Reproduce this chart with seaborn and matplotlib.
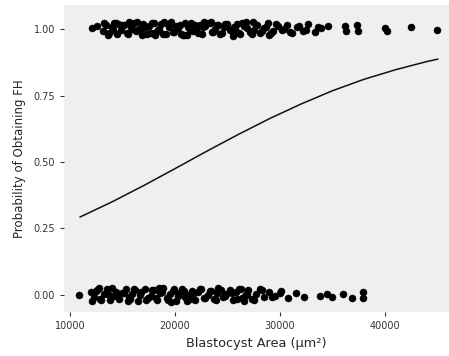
import matplotlib
matplotlib.use("Agg")
import matplotlib.pyplot as plt
import pandas as pd
import seaborn as sns

# embryos that obtained FH (plotted around 1, jittered)
fh1_area = [
    12100, 12600, 13100, 13400, 13700, 14000, 14200, 14500, 14900, 15100,
    15400, 15800, 16100, 16300, 16600, 17000, 17300, 17500, 17800, 18200,
    18400, 18700, 19100, 19400, 19600, 19900, 20300, 20500, 20800, 21200,
    21500, 21700, 22000, 22400, 22600, 22900, 23300, 23600, 23800, 24100,
    24500, 24700, 25000, 25400, 25700, 25900, 26200, 26600, 26800, 27100,
    27500, 27800, 28100, 28500, 28900, 29300, 29800, 30200, 30700, 31100,
    31600, 32200, 32700, 33300, 33900, 34600, 13200, 13600, 14100, 14600,
    15000, 15500, 15900, 16400, 16800, 17200, 17700, 18000, 18500, 18900,
    19300, 19800, 20100, 20600, 21000, 21400, 21900, 22200, 22700, 23100,
    23500, 24000, 24300, 24800, 25200, 25600, 26100, 26400, 26900, 27300,
    27700, 28300, 28700, 29100, 29600, 30400, 31000, 31800, 32500, 33600,
    36200, 36300, 37300, 37400, 40000, 40200, 42500, 45000, 14400, 16900,
    19000, 21100, 23400, 25500, 27400, 29000, 15600, 18100, 20900, 22800,
]
fh1_y = [
    1.004, 1.010, 0.993, 1.017, 0.986, 1.008, 1.022, 0.980, 0.998, 1.015,
    0.985, 1.006, 1.024, 0.992, 1.002, 1.019, 0.982, 1.011, 1.021, 0.989,
    0.997, 1.018, 0.983, 1.007, 1.025, 0.990, 1.003, 1.014, 0.978, 1.009,
    1.021, 0.994, 1.001, 1.016, 0.981, 1.011, 1.023, 0.988, 0.999, 1.014,
    0.986, 1.006, 1.020, 0.993, 1.002, 1.018, 0.981, 1.012, 1.025, 0.990,
    0.996, 1.017, 0.984, 1.005, 1.022, 0.991, 1.010, 0.997, 1.015, 0.987,
    1.008, 0.994, 1.019, 0.989, 1.004, 1.013, 1.022, 0.979, 0.996, 1.018,
    1.014, 0.983, 1.002, 1.025, 0.992, 1.006, 0.986, 1.021, 1.000, 0.982,
    1.019, 0.990, 1.010, 0.981, 1.023, 0.995, 1.016, 0.985, 1.007, 1.024,
    0.988, 1.014, 0.982, 1.018, 0.997, 1.009, 0.986, 1.022, 1.003, 0.980,
    1.017, 0.993, 1.006, 0.984, 1.020, 1.002, 0.989, 1.011, 0.998, 1.008,
    1.012, 0.992, 1.015, 0.994, 1.003, 0.991, 1.008, 0.997, 1.024, 0.977,
    1.026, 0.976, 1.027, 0.975, 1.026, 0.979, 1.027, 0.977, 0.976, 1.026,
]

# embryos without FH (plotted around 0, jittered)
fh0_area = [
    10900, 12000, 12300, 12600, 12900, 13200, 13500, 13800, 14100, 14400,
    14700, 15000, 15300, 15600, 15900, 16200, 16500, 16800, 17100, 17400,
    17700, 18000, 18300, 18600, 18900, 19200, 19500, 19800, 20100, 20400,
    20700, 21000, 21300, 21600, 21900, 22200, 22500, 22800, 23100, 23400,
    23700, 24000, 24300, 24600, 24900, 25200, 25500, 25800, 26100, 26400,
    26700, 27000, 27300, 27700, 28100, 28500, 29000, 29500, 30100, 30800,
    31500, 32300, 33800, 34500, 35000, 36000, 36900, 37900, 37950, 12100,
    12500, 13000, 13600, 14000, 14600, 15100, 15700, 16100, 16700, 17200,
    17800, 18200, 18800, 19300, 19900, 20300, 20900, 21400, 21800, 22400,
    22900, 23300, 23900, 24400, 24800, 25400, 25900, 26300, 26900, 27500,
    28300, 29200, 30000, 12800, 15500, 18500, 21100, 24100, 26600, 19600,
]
fh0_y = [
    0.000, 0.010, -0.007, 0.017, -0.014, 0.005, 0.022, -0.019, -0.002, 0.013,
    -0.016, 0.007, 0.024, -0.009, 0.002, 0.019, -0.021, 0.010, 0.022, -0.011,
    -0.003, 0.018, -0.017, 0.006, 0.025, -0.010, 0.004, 0.014, -0.022, 0.009,
    0.021, -0.006, 0.001, 0.016, -0.018, 0.011, 0.023, -0.012, -0.001, 0.014,
    -0.014, 0.006, 0.020, -0.007, 0.002, 0.018, -0.019, 0.012, 0.024, -0.010,
    -0.004, 0.017, -0.016, 0.005, 0.022, -0.009, 0.010, -0.002, 0.015, -0.013,
    0.008, -0.006, -0.003, 0.005, -0.008, 0.003, -0.010, 0.010, -0.012, -0.021,
    0.014, -0.017, 0.002, 0.025, -0.008, 0.006, -0.014, 0.021, 0.000, -0.018,
    0.019, -0.010, 0.010, -0.019, 0.023, -0.005, 0.016, -0.015, 0.007, 0.024,
    -0.012, 0.014, -0.018, 0.018, -0.003, 0.009, -0.014, 0.022, 0.003, -0.020,
    0.017, -0.007, 0.006, 0.026, -0.024, 0.026, -0.023, 0.025, -0.022, -0.025,
]

# fitted logistic curve
curve_area = [10950, 14000, 17000, 20000, 23000, 26000, 29000, 32000, 35000, 38000, 41000, 44000, 45050]
curve_prob = [0.293, 0.350, 0.411, 0.475, 0.540, 0.603, 0.663, 0.718, 0.768, 0.811, 0.847, 0.878, 0.887]

x_ticks = [10000, 20000, 30000, 40000]
y_ticks = [0.00, 0.25, 0.50, 0.75, 1.00]
y_tick_labels = ['0.00', '0.25', '0.50', '0.75', '1.00']

sns.set_theme(style="white")
plt.rcParams['font.family'] = ['DejaVu Sans']


def main():
    points = pd.DataFrame({
        'area': fh1_area + fh0_area,
        'fh': fh1_y + fh0_y,
    })
    curve = pd.DataFrame({'area': curve_area, 'prob': curve_prob})

    fig = plt.figure(figsize=(4.49, 3.56), dpi=100)
    ax = fig.add_axes([0.1425, 0.1236, 0.8575, 0.862])
    ax.set_facecolor('#efefef')

    # jittered observations
    sns.scatterplot(data=points, x='area', y='fh', ax=ax, color='black',
                    s=26, linewidth=0.3, edgecolor='black', legend=False)
    # logistic fit
    sns.lineplot(data=curve, x='area', y='prob', ax=ax, color='#111111', linewidth=1.1)

    ax.set_xlim(9430, 46100)
    ax.set_ylim(-0.064, 1.09)
    ax.set_xticks(x_ticks)
    ax.set_xticklabels([str(t) for t in x_ticks], fontsize=7, color='#333333')
    ax.set_yticks(y_ticks)
    ax.set_yticklabels(y_tick_labels, fontsize=7, color='#333333')
    ax.tick_params(axis='both', length=3, width=0.8, color='#333333', pad=3.5,
                   bottom=True, left=True)

    for side in ax.spines.values():
        side.set_visible(False)

    ax.set_xlabel('Blastocyst Area (µm²)', fontsize=9.3, labelpad=4)
    ax.set_ylabel('Probability of Obtaining FH', fontsize=8.5, labelpad=5)

    fig.savefig('out.png', dpi=100)


if __name__ == '__main__':
    main()
